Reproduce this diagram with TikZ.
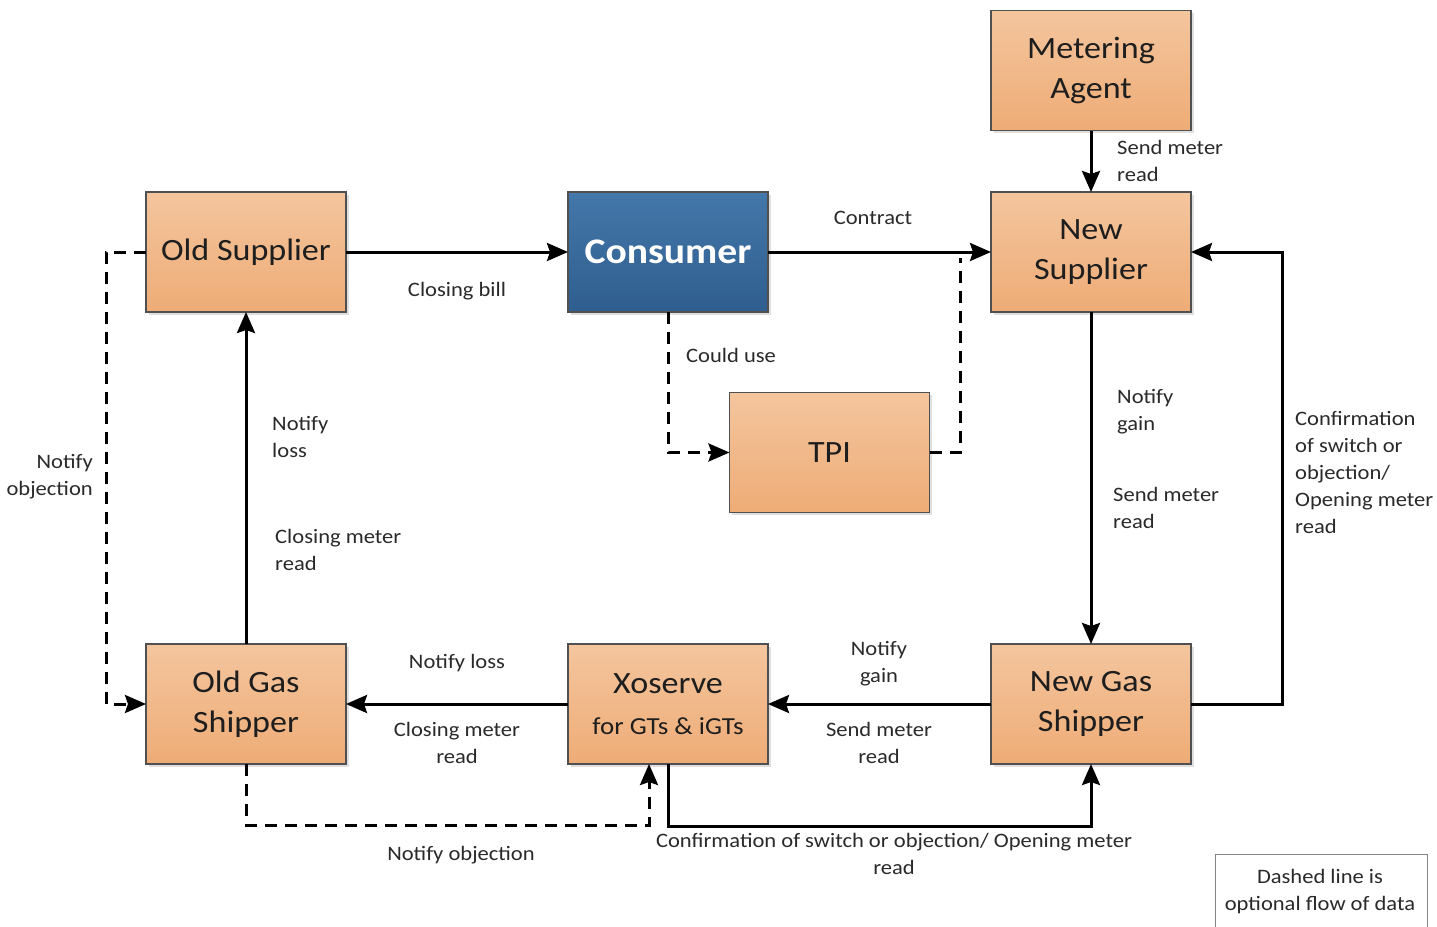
\documentclass[tikz,border=0pt]{standalone}
\usepackage{fontspec}
\setmainfont{Carlito}[FakeStretch=1.1]
\usetikzlibrary{arrows.meta,shadows}
\definecolor{orTop}{HTML}{F4C59E}
\definecolor{orBot}{HTML}{EEAC76}
\definecolor{blTop}{HTML}{4477AA}
\definecolor{blBot}{HTML}{2F5E8E}
\definecolor{boxborder}{HTML}{505050}
\definecolor{txt}{HTML}{1E1E1E}
\definecolor{lbltxt}{HTML}{2A2A2A}
\tikzset{
  box/.style={draw=boxborder, line width=1.3pt, top color=orTop, bottom color=orBot,
    minimum width=200pt, minimum height=120pt, inner sep=0pt, outer sep=0pt,
    font=\fontsize{31}{40}\selectfont, text=txt, align=center,
    drop shadow={shadow xshift=2.5pt, shadow yshift=-2.5pt, opacity=0.25}},
  bluebox/.style={box, top color=blTop, bottom color=blBot, text=white,
    font=\fontsize{36}{40}\selectfont\bfseries},
  lbl/.style={font=\fontsize{20.5}{27}\selectfont, text=lbltxt, inner sep=0pt},
  flow/.style={line width=3pt, -{Stealth[length=21pt,width=18pt,inset=3pt]}},
  optflow/.style={flow, dash pattern=on 12pt off 8pt},
  optline/.style={line width=3pt, dash pattern=on 12pt off 8pt},
}
\begin{document}
\begin{tikzpicture}[x=1pt,y=-1pt]
\useasboundingbox (0,0) rectangle (1437,926);
\fill[white] (0,0) rectangle (1437,926);

% nodes
\node[box] (MA) at (1091,70.5) {Metering\\Agent};
\node[box] (NS) at (1091,252) {New\\Supplier};
\node[box] (OS) at (246,252) {Old Supplier};
\node[bluebox] (C) at (668,252) {Consumer};
\node[box] (TPI) at (829.5,452.5) {TPI};
\node[box] (OGS) at (246,704) {Old Gas\\Shipper};
\node[box] (X) at (668,704) {Xoserve\\[1pt]{\fontsize{24.5}{28}\selectfont for GTs \& iGTs}};
\node[box] (NGS) at (1091,704) {New Gas\\Shipper};
\node[draw=boxborder!70, line width=1pt, fill=white, minimum width=212pt, minimum height=90pt,
      anchor=north west, inner sep=0pt] (LG) at (1215,854) {};
\node[lbl, align=center] (LGt) at (1320,891.5) {Dashed line is\\optional flow of data};

% coordinates
\coordinate (j) at (960,258);
\coordinate (d1) at (649,825);

% solid flows
\draw[flow] (OS.east) -- (C.west);
\draw[flow] (C.east) -- (NS.west);
\draw[flow] (MA.south) -- (NS.north);
\draw[flow] (NS.south) -- (NGS.north);
\draw[flow] (NGS.east) -- ++(91,0) |- (NS.east);
\draw[flow] (NGS.west) -- (X.east);
\draw[flow] (X.west) -- (OGS.west -| OGS.east);
\draw[flow] (OGS.north) -- (OS.south);
\draw[flow] (X.south) -- ++(0,62) -| (NGS.south);

% dashed flows
\draw[optflow] (OS.west) -- ++(-40,0) |- (OGS.west);
\draw[optflow] (OGS.south) |- (d1) -- (X.south -| d1);
\draw[optflow] (C.south) |- (TPI.west);
\draw[optline] (TPI.east) -| (j);

% labels
\node[lbl] (l1) at (457,291) {Closing bill};
\node[lbl] (l2) at (873,218) {Contract};
\node[lbl, anchor=west] (l3) at (686,355) {Could use};
\node[lbl, anchor=west, align=left] (l4) at (1117,160.5) {Send meter\\read};
\node[lbl, anchor=west, align=left] (l5) at (1117,412) {Notify\\gain};
\node[lbl, anchor=west, align=left] (l6) at (1113,508) {Send meter\\read};
\node[lbl, anchor=west, align=left] (l7) at (1295,472.5) {Confirmation\\of switch or\\objection/\\Opening meter\\read};
\node[lbl, align=center] (l8) at (879,663.5) {Notify\\gain};
\node[lbl, align=center] (l9) at (879,743) {Send meter\\read};
\node[lbl] (l10) at (457,663) {Notify loss};
\node[lbl, align=center] (l11) at (457,743) {Closing meter\\read};
\node[lbl, anchor=west, align=left] (l12) at (272,436.5) {Notify\\loss};
\node[lbl, anchor=west, align=left] (l13) at (275,549.5) {Closing meter\\read};
\node[lbl, anchor=east, align=right] (l14) at (93,476.5) {Notify\\objection};
\node[lbl] (l15) at (461,855) {Notify objection};
\node[lbl, align=center] (l16) at (894,854) {Confirmation of switch or objection/ Opening meter\\read};
\end{tikzpicture}
\end{document}
